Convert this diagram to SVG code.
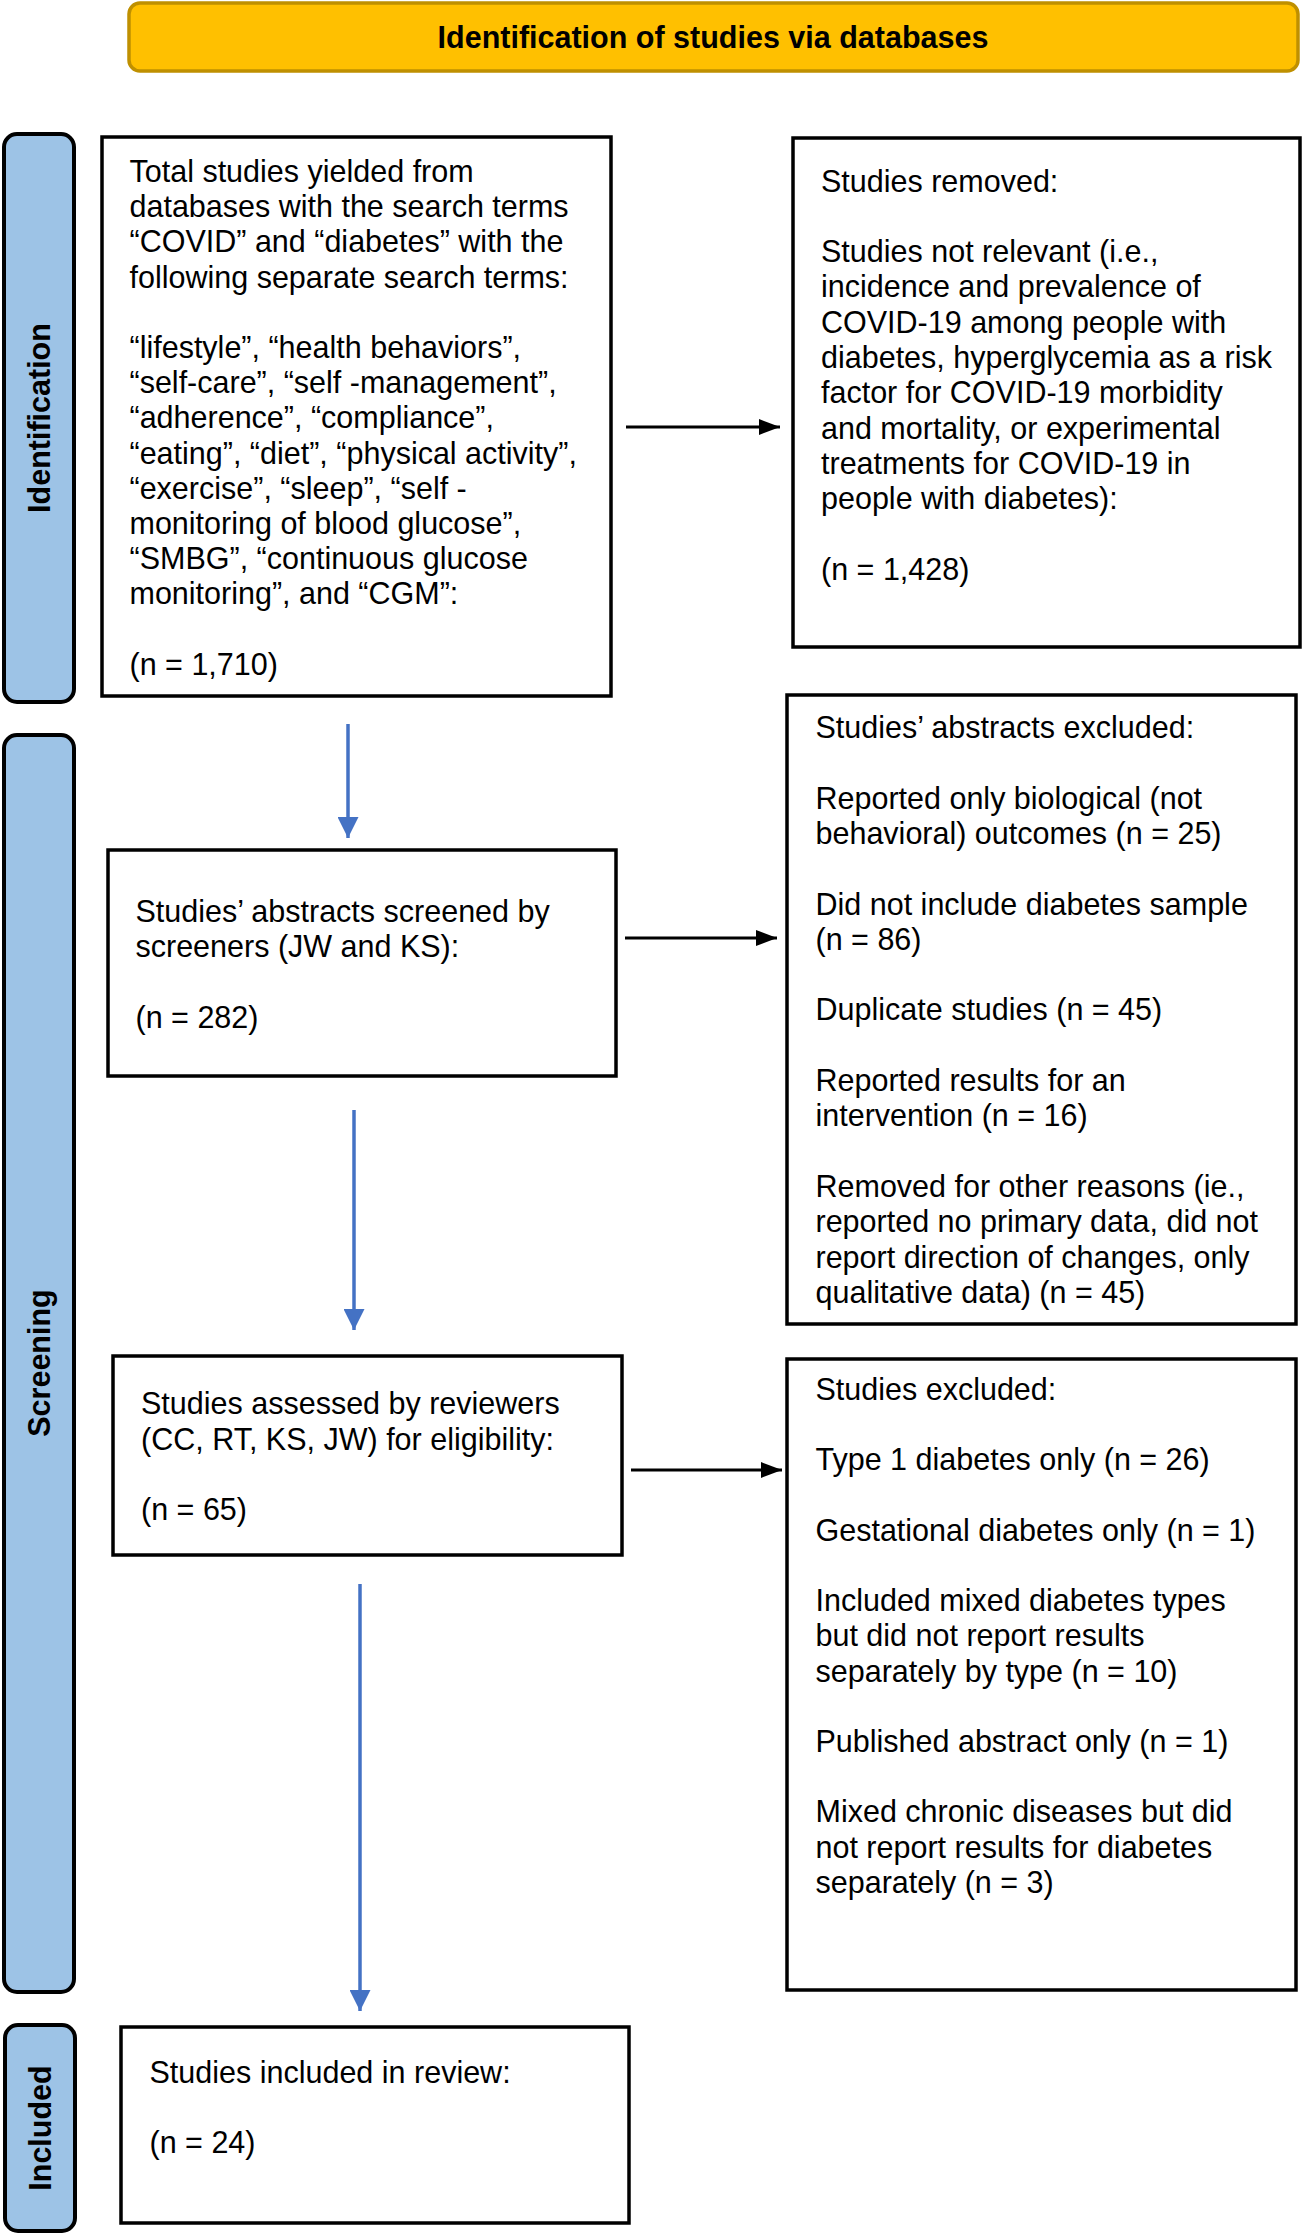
<svg xmlns="http://www.w3.org/2000/svg" width="1303" height="2233" viewBox="0 0 1303 2233">
<style>
.box{fill:#fff;stroke:#000;stroke-width:3.5}
.side{fill:#9DC3E6;stroke:#000;stroke-width:4}
.t{font-family:"Liberation Sans",Arial,sans-serif;font-size:30.5px;fill:#000}
.b{font-family:"Liberation Sans",Arial,sans-serif;font-size:30.5px;font-weight:bold;fill:#000}
.blk{stroke:#000;stroke-width:3;fill:none}
.blu{stroke:#4472C4;stroke-width:3.5;fill:none}
</style>
<defs>
<marker id="ab" markerUnits="userSpaceOnUse" markerWidth="21" markerHeight="16" refX="21" refY="8" orient="auto"><path d="M0,0 L21,8 L0,16 z" fill="#000"/></marker>
<marker id="au" markerUnits="userSpaceOnUse" markerWidth="21" markerHeight="21" refX="21" refY="10.5" orient="auto"><path d="M0,0 L21,10.5 L0,21 z" fill="#4472C4"/></marker>
</defs>
<rect width="1303" height="2233" fill="#fff"/>
<g id="header">
<rect x="129" y="3" width="1169" height="68" rx="11" fill="#FFC000" stroke="#BF9000" stroke-width="3.5"/>
<text class="b" x="713" y="48" text-anchor="middle">Identification of studies via databases</text>
</g>
<g id="side-identification">
<rect class="side" x="4" y="134" width="70" height="568" rx="13"/>
<text class="b" transform="translate(49.5,418) rotate(-90)" text-anchor="middle">Identification</text>
</g>
<g id="side-screening">
<rect class="side" x="4" y="735" width="70" height="1257" rx="13"/>
<text class="b" transform="translate(49.5,1363) rotate(-90)" text-anchor="middle">Screening</text>
</g>
<g id="side-included">
<rect class="side" x="5" y="2025" width="70" height="206" rx="13"/>
<text class="b" transform="translate(50.5,2128) rotate(-90)" text-anchor="middle">Included</text>
</g>
<g id="total">
<rect class="box" x="102" y="137" width="509" height="559"/>
<text class="t" x="129.5" y="182">Total studies yielded from</text>
<text class="t" x="129.5" y="217.2">databases with the search terms</text>
<text class="t" x="129.5" y="252.4">“COVID” and “diabetes” with the</text>
<text class="t" x="129.5" y="287.6">following separate search terms:</text>
<text class="t" x="129.5" y="358">“lifestyle”, “health behaviors”,</text>
<text class="t" x="129.5" y="393.2">“self-care”, “self -management”,</text>
<text class="t" x="129.5" y="428.4">“adherence”, “compliance”,</text>
<text class="t" x="129.5" y="463.6">“eating”, “diet”, “physical activity”,</text>
<text class="t" x="129.5" y="498.8">“exercise”, “sleep”, “self -</text>
<text class="t" x="129.5" y="534">monitoring of blood glucose”,</text>
<text class="t" x="129.5" y="569.2">“SMBG”, “continuous glucose</text>
<text class="t" x="129.5" y="604.4">monitoring”, and “CGM”:</text>
<text class="t" x="129.5" y="674.8">(n = 1,710)</text>
</g>
<g id="removed">
<rect class="box" x="793" y="138" width="507" height="509"/>
<text class="t" x="821" y="191.5">Studies removed:</text>
<text class="t" x="821" y="262">Studies not relevant (i.e.,</text>
<text class="t" x="821" y="297.3">incidence and prevalence of</text>
<text class="t" x="821" y="332.6">COVID-19 among people with</text>
<text class="t" x="821" y="367.9">diabetes, hyperglycemia as a risk</text>
<text class="t" x="821" y="403.2">factor for COVID-19 morbidity</text>
<text class="t" x="821" y="438.5">and mortality, or experimental</text>
<text class="t" x="821" y="473.8">treatments for COVID-19 in</text>
<text class="t" x="821" y="509.1">people with diabetes):</text>
<text class="t" x="821" y="579.7">(n = 1,428)</text>
</g>
<g id="screened">
<rect class="box" x="108" y="850" width="508" height="226"/>
<text class="t" x="135.5" y="922">Studies’ abstracts screened by</text>
<text class="t" x="135.5" y="956.8">screeners (JW and KS):</text>
<text class="t" x="135.5" y="1028">(n = 282)</text>
</g>
<g id="abstracts-excluded">
<rect class="box" x="787" y="695" width="509" height="629"/>
<text class="t" x="815.5" y="738">Studies’ abstracts excluded:</text>
<text class="t" x="815.5" y="808.6">Reported only biological (not</text>
<text class="t" x="815.5" y="843.9">behavioral) outcomes (n = 25)</text>
<text class="t" x="815.5" y="914.5">Did not include diabetes sample</text>
<text class="t" x="815.5" y="949.8">(n = 86)</text>
<text class="t" x="815.5" y="1020.4">Duplicate studies (n = 45)</text>
<text class="t" x="815.5" y="1091">Reported results for an</text>
<text class="t" x="815.5" y="1126.3">intervention (n = 16)</text>
<text class="t" x="815.5" y="1197">Removed for other reasons (ie.,</text>
<text class="t" x="815.5" y="1232.2">reported no primary data, did not</text>
<text class="t" x="815.5" y="1267.5">report direction of changes, only</text>
<text class="t" x="815.5" y="1302.8">qualitative data) (n = 45)</text>
</g>
<g id="assessed">
<rect class="box" x="113" y="1356" width="509" height="199"/>
<text class="t" x="141" y="1414">Studies assessed by reviewers</text>
<text class="t" x="141" y="1449.5">(CC, RT, KS, JW) for eligibility:</text>
<text class="t" x="141" y="1520">(n = 65)</text>
</g>
<g id="studies-excluded">
<rect class="box" x="787" y="1359" width="509" height="631"/>
<text class="t" x="815.5" y="1400">Studies excluded:</text>
<text class="t" x="815.5" y="1470.4">Type 1 diabetes only (n = 26)</text>
<text class="t" x="815.5" y="1540.8">Gestational diabetes only (n = 1)</text>
<text class="t" x="815.5" y="1611.2">Included mixed diabetes types</text>
<text class="t" x="815.5" y="1646.4">but did not report results</text>
<text class="t" x="815.5" y="1681.6">separately by type (n = 10)</text>
<text class="t" x="815.5" y="1752">Published abstract only (n = 1)</text>
<text class="t" x="815.5" y="1822.4">Mixed chronic diseases but did</text>
<text class="t" x="815.5" y="1857.6">not report results for diabetes</text>
<text class="t" x="815.5" y="1892.8">separately (n = 3)</text>
</g>
<g id="included">
<rect class="box" x="121" y="2027" width="508" height="196"/>
<text class="t" x="149.5" y="2083">Studies included in review:</text>
<text class="t" x="149.5" y="2153">(n = 24)</text>
</g>
<g id="connectors">
<line class="blk" x1="626" y1="427" x2="780" y2="427" marker-end="url(#ab)"/>
<line class="blk" x1="625" y1="938" x2="777" y2="938" marker-end="url(#ab)"/>
<line class="blk" x1="631" y1="1470" x2="782" y2="1470" marker-end="url(#ab)"/>
<line class="blu" x1="348" y1="724" x2="348" y2="838" marker-end="url(#au)"/>
<line class="blu" x1="354" y1="1110" x2="354" y2="1330" marker-end="url(#au)"/>
<line class="blu" x1="360" y1="1584" x2="360" y2="2011" marker-end="url(#au)"/>
</g>
</svg>
